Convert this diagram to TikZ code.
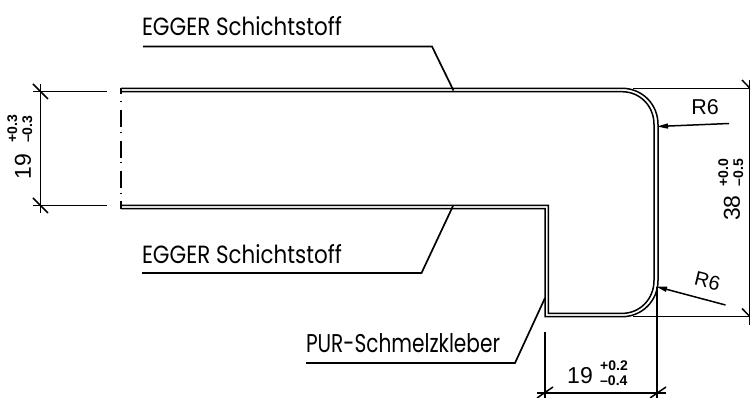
\documentclass[tikz,border=0pt]{standalone}
\usepackage{fontspec}
\setmainfont{Liberation Sans}
\newfontfamily\futfont{Poppins}
\usetikzlibrary{arrows.meta}
\tikzset{
  part/.style={line width=1.5pt,line join=miter},
  dimline/.style={line width=1.5pt,line cap=butt},
  leader/.style={line width=1.7pt,line join=miter},
  label/.style={inner sep=0pt,outer sep=0pt},
  arrowed/.style={line width=1.5pt,-{Triangle[length=11pt,width=5pt]}},
  big/.style={font=\fontsize{23}{23}\selectfont},
  small/.style={font=\bfseries\fontsize{14}{15}\selectfont},
}
\newcommand{\futlabel}[3]{\resizebox{#1pt}{#2pt}{\futfont #3}}
\newcommand{\tol}[2]{\begin{tabular}{@{}l@{}}#1\\#2\end{tabular}}
\begin{document}
\begin{tikzpicture}[x=1pt,y=-1pt]
\useasboundingbox (0,0) rectangle (750,398);
% outline: outer and inner line
\draw[part] (121,88.3) -- (622,88.3) .. controls (642,88.3) and (658,104) .. (658,124.5)
  -- (658,280.5) .. controls (658,301) and (642,316.7) .. (622,316.7) -- (545,316.7) -- (545,208.7) -- (121,208.7);
\draw[part] (121,91.7) -- (622,91.7) .. controls (640,91.7) and (654,106) .. (654,124.5)
  -- (654,280.5) .. controls (654,299) and (640,313.4) .. (622,313.4) -- (548.3,313.4) -- (548.3,205.3) -- (121,205.3);
% break line
\draw[line width=1.6pt] (121,88) -- (121,94);
\draw[line width=1.6pt] (121,201.5) -- (121,209);
\draw[line width=1.6pt,dash pattern=on 1pt off 8pt on 17pt off 4.5pt] (121,101.5) -- (121,194);
% left dimension
\coordinate (lt) at (40.5,91.7);
\coordinate (lb) at (40.5,205.7);
\draw[dimline] (33,91.7) -- (107,91.7);
\draw[dimline] (33,205.7) -- (107,205.7);
\draw[dimline] (40.5,84) -- (lb) -- (40.5,213);
\draw[dimline] (33,84) -- (48,99);
\draw[dimline] (33,198) -- (48,213);
\node[label,rotate=90,big] (d19l) at (23,166.5) {19};
\node[label,rotate=90,small] (t19l) at (21.5,129) {\tol{+0.3}{–0.3}};
% right dimension
\draw[dimline] (633,88.3) -- (750,88.3);
\draw[dimline] (633,316.7) -- (750,316.7);
\draw[dimline] (749.3,80) -- (749.3,325);
\draw[dimline] (742,80) -- (750,88.3);
\draw[dimline] (742,308.5) -- (750,316.7);
\node[label,rotate=90,big] (d38) at (732,208) {38};
\node[label,rotate=90,small] (t38) at (732.5,172.5) {\tol{+0.0}{–0.5}};
% bottom dimension
\draw[dimline] (545,332) -- (545,398);
\draw[dimline] (657,287) -- (657,398);
\draw[dimline] (537,393) -- (666,393);
\draw[dimline] (537,398) -- (553,387);
\draw[dimline] (650,398) -- (666,387);
\node[label,big] (d19b) at (580,376) {19};
\node[label,small] (t19b) at (614,374.5) {\tol{+0.2}{–0.4}};
% radius labels
\coordinate (r1s) at (729,123.5);
\coordinate (r1e) at (657,126.5);
\draw[arrowed] (r1s) -- (r1e);
\node[label,font=\fontsize{21.5}{22}\selectfont] (r1) at (705,107) {R6};
\coordinate (r2s) at (725.5,305);
\coordinate (r2e) at (656,286.5);
\draw[arrowed] (r2s) -- (r2e);
\node[label,rotate=-14,font=\fontsize{20}{20}\selectfont] (r2) at (707.5,281) {R6};
% leader texts
\node[label,anchor=south west] (eg1) at (142,36) {\futlabel{200}{19}{EGGER Schichtstoff}};
\coordinate (eg1a) at (143,46.5);
\coordinate (eg1b) at (432,46.5);
\coordinate (eg1c) at (453.5,90.5);
\draw[leader] (eg1a) -- (eg1b) -- (eg1c);
\node[label,anchor=south west] (eg2) at (142,264) {\futlabel{200}{19}{EGGER Schichtstoff}};
\coordinate (eg2a) at (142,273);
\coordinate (eg2b) at (421.5,273);
\coordinate (eg2c) at (453,206);
\draw[leader] (eg2a) -- (eg2b) -- (eg2c);
\node[label,anchor=south west] (pur) at (306,353) {\futlabel{194}{19}{PUR-Schmelzkleber}};
\coordinate (pura) at (306,363);
\coordinate (purb) at (515,363);
\coordinate (purc) at (545,298);
\draw[leader] (pura) -- (purb) -- (purc);
\end{tikzpicture}
\end{document}
